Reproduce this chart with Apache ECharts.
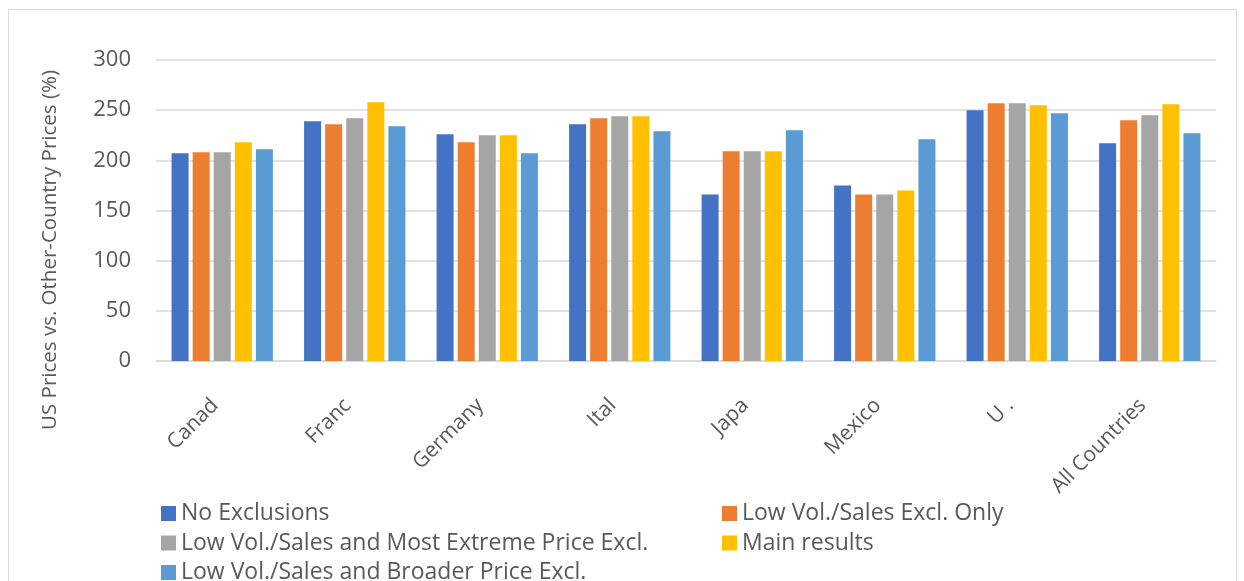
<!DOCTYPE html>
<html><head><meta charset="utf-8">
<script src="https://cdn.jsdelivr.net/npm/echarts@6/dist/echarts.min.js"></script>
<style>html,body{margin:0;padding:0;background:#fff}#c{width:1244px;height:581px}</style>
</head><body><div id="c"></div>
<script>
const categories = ["Canad", "Franc", "Germany", "Ital", "Japa", "Mexico", "U .", "All Countries"];
const seriesNames = ["No Exclusions", "Low Vol./Sales Excl. Only", "Low Vol./Sales and Most Extreme Price Excl.", "Main results", "Low Vol./Sales and Broader Price Excl."];
const noExclusions   = [207, 239, 226, 236, 166, 175, 250, 217];
const lowVolOnly     = [208, 236, 218, 242, 209, 166, 257, 240];
const lowVolExtreme  = [208, 242, 225, 244, 209, 166, 257, 245];
const mainResults    = [218, 258, 225, 244, 209, 170, 255, 256];
const lowVolBroader  = [211, 234, 207, 229, 230, 221, 247, 227];
const yTicks = [0, 50, 100, 150, 200, 250, 300];
const colors = ["#4472C4", "#ED7D31", "#A5A5A5", "#FFC000", "#5B9BD5"];
const values = [noExclusions, lowVolOnly, lowVolExtreme, mainResults, lowVolBroader];
const FONT = "Open Sans";
const chart = echarts.init(document.getElementById('c'));
const legendText = {fontSize: 23, color: '#595959', fontFamily: FONT};
// legend slot positions: [left, top] per series
const legendPos = [[161, 502], [722, 502], [161, 531.5], [722, 531.5], [161, 561]];
chart.setOption({
  animation: false,
  textStyle: {fontFamily: FONT},
  grid: {left: 156, right: 28, top: 60, bottom: 220, containLabel: false},
  legend: seriesNames.map((n, i) => ({
    data: [n], left: legendPos[i][0], top: legendPos[i][1], icon: 'rect', itemWidth: 15, itemHeight: 15, itemGap: 6,
    textStyle: legendText, selectedMode: false, padding: 0
  })),
  xAxis: {type: 'category', data: categories,
    axisLine: {lineStyle: {color: '#d9d9d9', width: 1.5}}, axisTick: {show: false},
    axisLabel: {rotate: 45, fontSize: 21, color: '#595959', margin: 34, interval: 0, fontFamily: FONT, padding: [0, 10, 0, 0]}},
  yAxis: {type: 'value', min: yTicks[0], max: yTicks[yTicks.length - 1], interval: 50,
    axisLine: {show: false}, axisTick: {show: false},
    splitLine: {lineStyle: {color: '#d9d9d9', width: 1.5}},
    axisLabel: {fontSize: 22, color: '#595959', margin: 25, fontFamily: FONT}},
  graphic: [
    {type: 'rect', shape: {x: 8.5, y: 9.5, width: 1228, height: 600}, style: {fill: 'none', stroke: '#d9d9d9', lineWidth: 1}, z: -1},
    {type: 'text', x: 50, y: 250, rotation: Math.PI / 2, style: {text: 'US Prices vs. Other-Country Prices (%)', fontSize: 20.5, fill: '#595959', fontFamily: FONT, align: 'center', verticalAlign: 'middle'}}
  ],
  series: seriesNames.map((n, i) => ({
    name: n, type: 'bar', data: values[i], barWidth: 17, barGap: '24%',
    itemStyle: {color: colors[i]}
  }))
});
</script></body></html>
